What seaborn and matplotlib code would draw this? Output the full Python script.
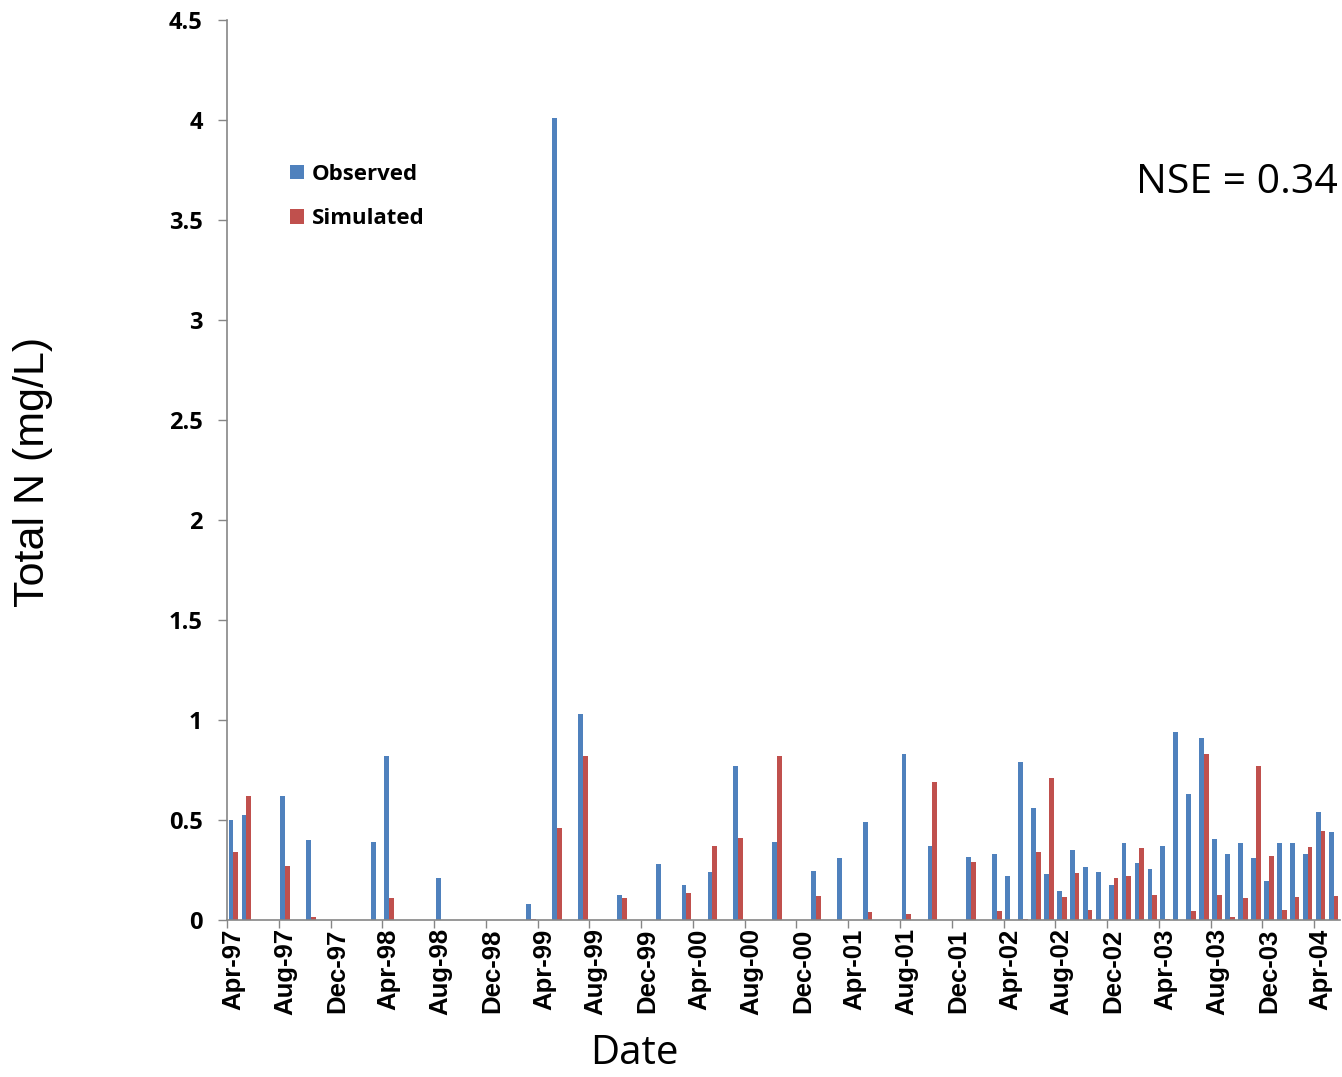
import numpy as np
import pandas as pd
import matplotlib
matplotlib.use("Agg")
import matplotlib.pyplot as plt
from matplotlib.patches import Patch
import seaborn as sns

nan = np.nan
# Months Apr-97 .. May-04 (86 monthly slots)
months = pd.date_range("1997-04-01", "2004-05-01", freq="MS").strftime("%b-%y").tolist()

observed = [0.50, 0.525, nan, nan, 0.62, nan, 0.40, nan, nan, nan,
            nan, 0.39, 0.82, nan, nan, nan, 0.21, nan, nan, nan,
            nan, nan, nan, 0.08, nan, 4.01, nan, 1.03, nan, nan,
            0.125, nan, nan, 0.28, nan, 0.175, nan, 0.24, nan, 0.77,
            nan, nan, 0.39, nan, nan, 0.245, nan, 0.31, nan, 0.49,
            nan, nan, 0.83, nan, 0.37, nan, nan, 0.315, nan, 0.33,
            0.22, 0.79, 0.56, 0.23, 0.145, 0.35, 0.265, 0.24, 0.175, 0.385,
            0.285, 0.255, 0.37, 0.94, 0.63, 0.91, 0.405, 0.33, 0.385, 0.31,
            0.195, 0.385, 0.385, 0.33, 0.54, 0.44]

simulated = [0.34, 0.62, nan, nan, 0.27, nan, 0.017, nan, nan, nan,
             nan, nan, 0.11, nan, nan, nan, nan, nan, nan, nan,
             nan, nan, nan, 0.005, nan, 0.46, nan, 0.82, nan, nan,
             0.11, nan, nan, nan, nan, 0.135, nan, 0.37, nan, 0.41,
             nan, nan, 0.82, nan, nan, 0.12, nan, nan, nan, 0.04,
             nan, nan, 0.03, nan, 0.69, nan, nan, 0.29, nan, 0.045,
             nan, 0.005, 0.34, 0.71, 0.115, 0.235, 0.05, nan, 0.21, 0.22,
             0.36, 0.125, 0.005, nan, 0.045, 0.83, 0.125, 0.017, 0.11, 0.77,
             0.32, 0.05, 0.115, 0.365, 0.445, 0.12]

tick_labels = ["Apr-97", "Aug-97", "Dec-97", "Apr-98", "Aug-98", "Dec-98",
               "Apr-99", "Aug-99", "Dec-99", "Apr-00", "Aug-00", "Dec-00",
               "Apr-01", "Aug-01", "Dec-01", "Apr-02", "Aug-02", "Dec-02",
               "Apr-03", "Aug-03", "Dec-03", "Apr-04"]

series_names = ["Observed", "Simulated"]
colors = ["#4F81BD", "#C0504D"]

df = pd.DataFrame({
    "Month": months * 2,
    "Value": observed + simulated,
    "Series": [series_names[0]] * len(months) + [series_names[1]] * len(months),
})

sns.set_style("white")
plt.rcParams["text.color"] = "black"
plt.rcParams["xtick.color"] = "black"
plt.rcParams["ytick.color"] = "black"
fig = plt.figure(figsize=(13.42, 10.77), dpi=100)
ax = fig.add_axes([227 / 1342, 1 - 920 / 1077, 1113 / 1342, 900 / 1077])

sns.barplot(data=df, x="Month", y="Value", hue="Series", order=months,
            hue_order=series_names, palette=colors, width=0.74, gap=0,
            saturation=1, legend=False, ax=ax, errorbar=None,
            linewidth=0)

ax.set_xlim(-0.5, len(months) - 0.5)
ax.set_ylim(0, 4.5)
ax.set_xlabel("")
ax.set_ylabel("")

# y axis
yt = np.arange(0, 4.51, 0.5)
ax.set_yticks(yt)
ax.set_yticklabels([("%g" % v) for v in yt], fontfamily="Open Sans",
                   fontweight="bold", fontsize=17)
ax.tick_params(axis="y", which="major", direction="out", length=6.5,
               width=1, color="#868686", labelcolor="black", pad=11, left=True)

# x axis: labels at slot centres, tick marks at slot boundaries
major_pos = list(range(0, len(months), 4))
ax.set_xticks(major_pos)
ax.set_xticklabels(tick_labels, rotation=90, fontfamily="Liberation Sans",
                   fontweight="bold", fontsize=18.5)
ax.tick_params(axis="x", which="major", length=0, pad=6, labelcolor="black")
ax.set_xticks([p - 0.5 for p in major_pos], minor=True)
ax.tick_params(axis="x", which="minor", direction="out", length=6,
               width=1, color="#868686", bottom=True)

for s in ["top", "right"]:
    ax.spines[s].set_visible(False)
for s in ["left", "bottom"]:
    ax.spines[s].set_color("#868686")
    ax.spines[s].set_linewidth(1.2)

handles = [Patch(facecolor=c, edgecolor="none") for c in colors]
leg = ax.legend(handles, series_names, loc="upper left",
                bbox_to_anchor=(0.057, 0.840), frameon=False,
                borderaxespad=0, borderpad=0, handlelength=0.62,
                handleheight=0.62, handletextpad=0.36, labelspacing=1.05,
                prop={"family": "Open Sans", "weight": "bold", "size": 16})

fig.text(33 / 1342, 1 - 472 / 1077, "Total N (mg/L)", rotation=90,
         ha="center", va="center", fontfamily="Liberation Sans", fontsize=31)
fig.text(634 / 1342, 1 - 1054 / 1077, "Date", ha="center", va="center",
         fontfamily="Open Sans", fontsize=29)
fig.text(1338 / 1342, 1 - 183 / 1077, "NSE = 0.34", ha="right", va="center",
         fontfamily="Open Sans", fontsize=29.5)

fig.savefig("out.png", dpi=100)
